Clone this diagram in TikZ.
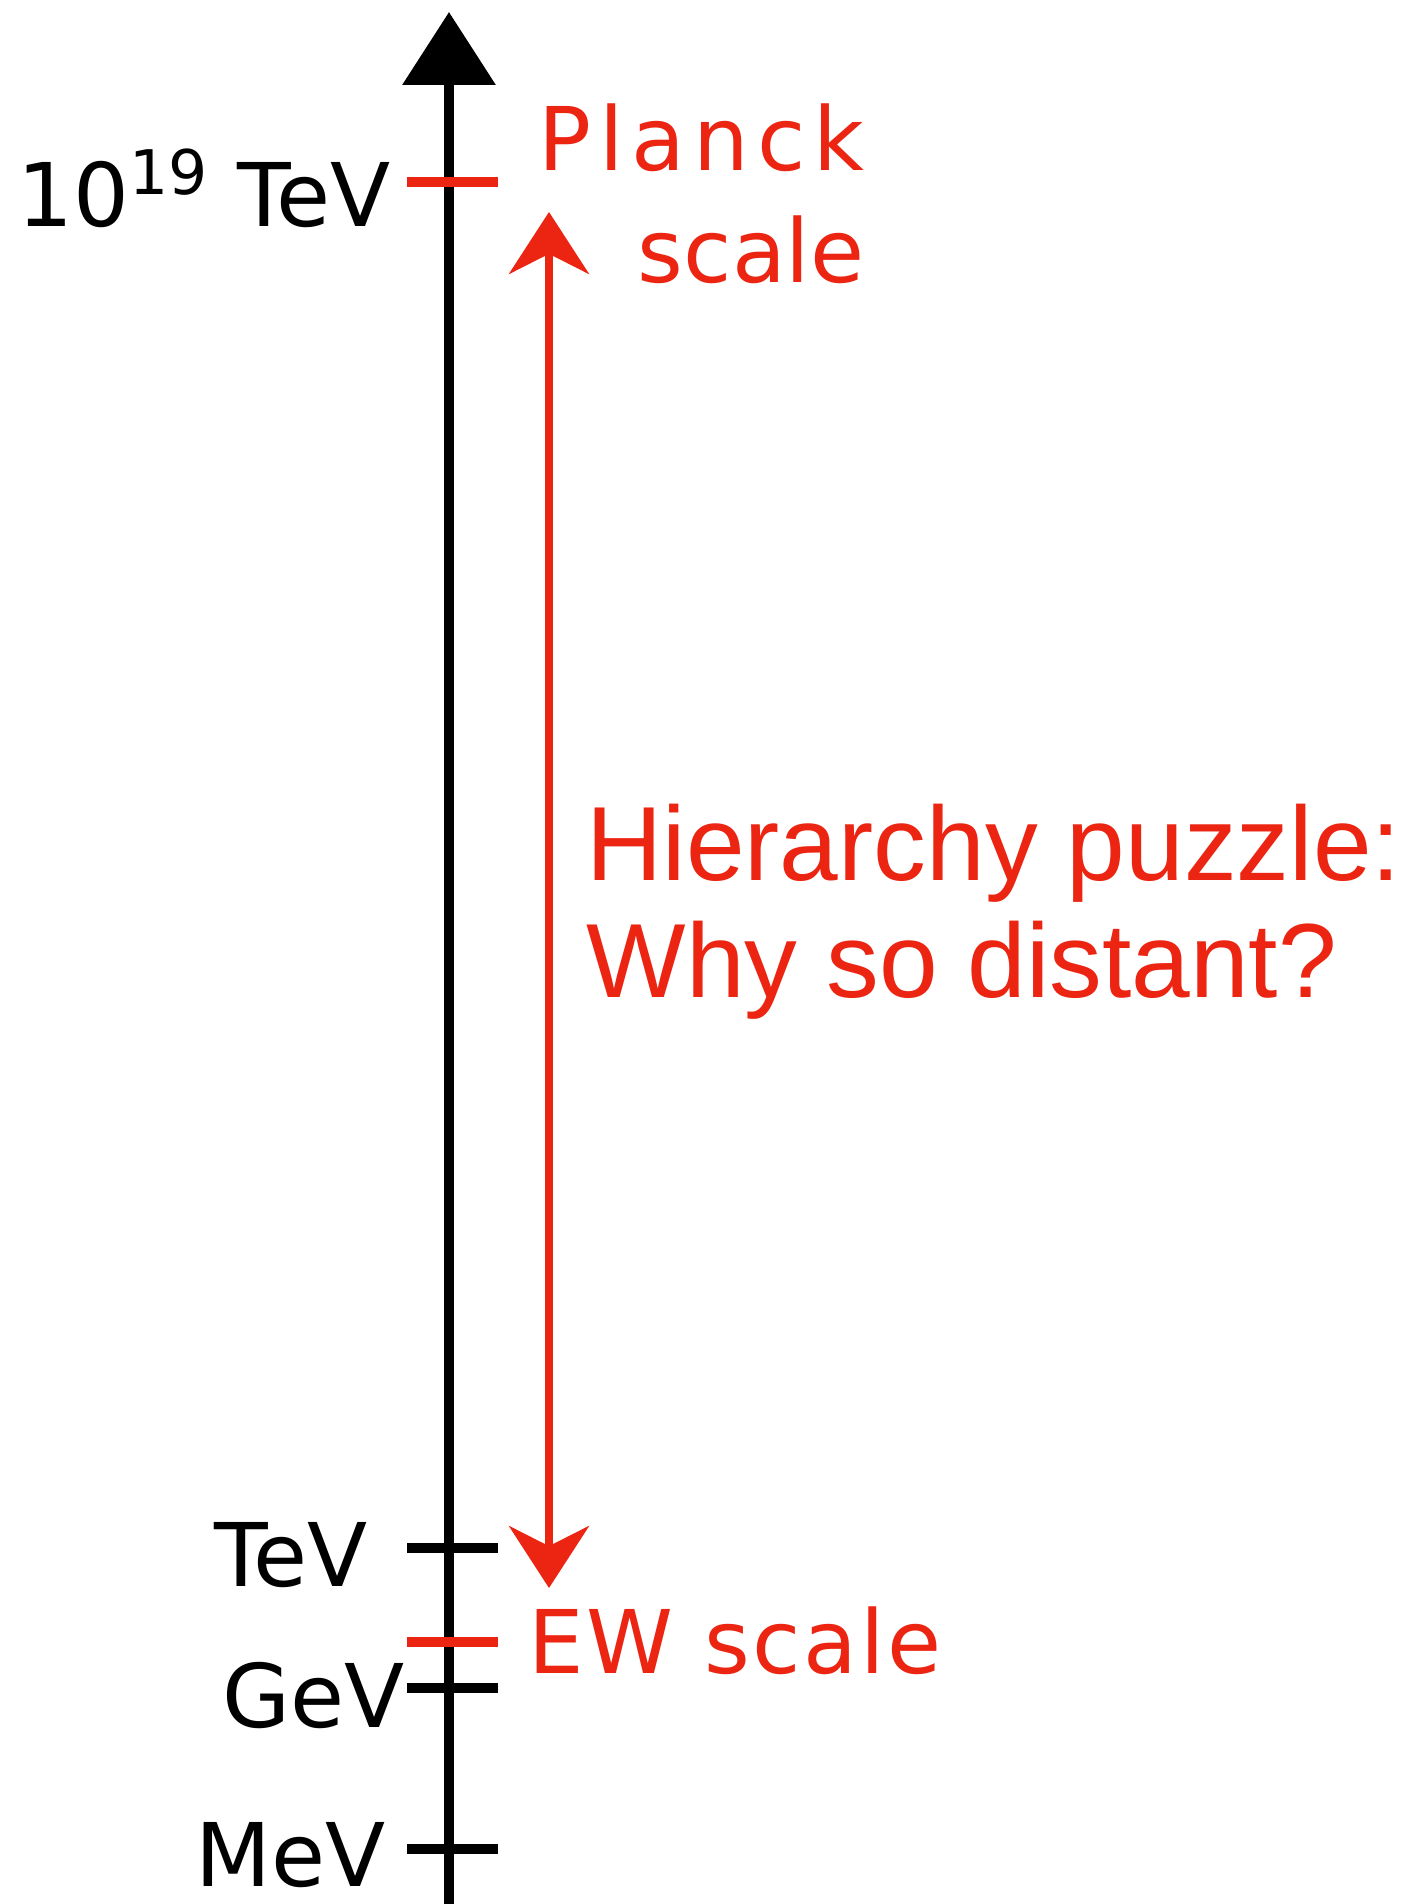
\documentclass[tikz,border=0pt]{standalone}
\usepackage{fontspec}
\setmainfont{Liberation Sans}
\newfontfamily\chalkfont{DejaVu Sans}
\usetikzlibrary{arrows.meta}
\definecolor{chalkred}{RGB}{236,36,18}

\begin{document}
\begin{tikzpicture}[>=Latex,
    chalk/.style={font=\chalkfont\fontsize{25}{32}\selectfont, inner sep=0pt},
    tickmark/.style={line width=2.8pt},
    bigtext/.style={font=\fontsize{30}{33.5}\selectfont, chalkred, inner sep=0pt, align=left}]
  \useasboundingbox (0,0) rectangle (14.23,19.04);

  \coordinate (Bot) at (4.49,0);
  \coordinate (Top) at (4.49,18.92);
  \coordinate (Pl) at (4.49,17.22);
  \coordinate (TeV) at (4.49,3.56);
  \coordinate (EW) at (4.49,2.62);
  \coordinate (GeV) at (4.49,2.16);
  \coordinate (MeV) at (4.49,0.55);
  \coordinate (HiUp) at (5.49,16.92);
  \coordinate (HiDown) at (5.49,3.16);

  % energy axis
  \draw[line width=3pt, -{Triangle[length=0.73cm, width=0.91cm]}] (Bot) -- (Top);

  % ticks
  \draw[tickmark, chalkred] (Pl) ++(-0.42,0) -- ++(0.91,0);
  \draw[tickmark] (TeV) ++(-0.42,0) -- ++(0.91,0);
  \draw[tickmark, chalkred] (EW) ++(-0.42,0) -- ++(0.91,0);
  \draw[tickmark] (GeV) ++(-0.42,0) -- ++(0.91,0);
  \draw[tickmark] (MeV) ++(-0.42,0) -- ++(0.91,0);

  % tick labels
  \node[chalk, anchor=east] (lPl) at (3.91,17.16) {10\textsuperscript{19} TeV};
  \node[chalk, anchor=east] (lTeV) at (3.68,3.49) {TeV};
  \node[chalk, anchor=east] (lGeV) at (4.05,2.08) {GeV};
  \node[chalk, anchor=east] (lMeV) at (3.86,0.49) {MeV};

  \node[chalk, chalkred, anchor=north east, align=right] (Planck) at (8.65,18.01)
    {\addfontfeature{LetterSpace=9}Planck\\scale};
  \node[chalk, chalkred, anchor=west] (EWscale) at (5.28,2.63)
    {\addfontfeature{LetterSpace=3}EW scale};

  % the gap
  \draw[chalkred, line width=2pt,
    {Stealth[length=0.62cm, width=0.8cm]}-{Stealth[length=0.62cm, width=0.8cm]}] (HiUp) -- (HiDown);
  \node[bigtext, anchor=base west] (puzzle) at (5.86,9.06)
    {Hierarchy puzzle:\\Why so distant?};
\end{tikzpicture}
\end{document}
